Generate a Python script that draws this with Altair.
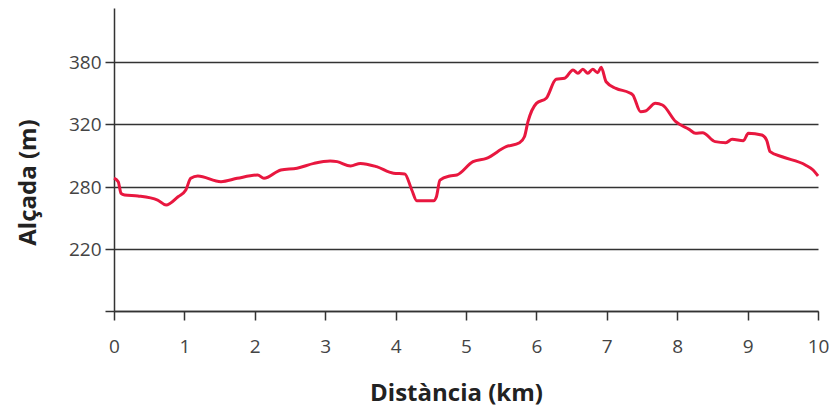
import altair as alt
import pandas as pd

km = [0.00, 0.06, 0.10, 0.15, 0.34, 0.62, 0.74, 0.91, 1.02, 1.09, 1.19, 1.52, 1.75, 2.04, 2.13,
      2.37, 2.60, 2.84, 3.07, 3.17, 3.36, 3.50, 3.73, 3.97, 4.13, 4.23, 4.30, 4.54, 4.58, 4.63,
      4.77, 4.87, 5.10, 5.29, 5.57, 5.76, 5.83, 5.88, 6.00, 6.14, 6.28, 6.40, 6.52, 6.59, 6.66,
      6.73, 6.80, 6.87, 6.92, 6.99, 7.13, 7.32, 7.37, 7.48, 7.55, 7.69, 7.79, 7.98, 8.17, 8.26,
      8.36, 8.54, 8.69, 8.78, 8.94, 9.01, 9.20, 9.27, 9.32, 9.49, 9.82, 9.93, 10.00]
alt_m = [285.7, 283.4, 273.9, 272.3, 271.3, 267.4, 262.6, 270.6, 277.1, 285.5, 287.0, 283.4, 285.5,
         287.6, 285.5, 290.8, 291.9, 295.0, 296.5, 296.1, 293.3, 295.0, 292.9, 288.7, 288.3, 277.1,
         266.7, 266.7, 270.6, 284.4, 287.0, 287.6, 296.1, 298.2, 305.6, 308.1, 311.9, 322.2, 340.0,
         344.9, 363.3, 364.2, 372.3, 369.1, 372.9, 369.1, 372.9, 369.6, 374.9, 360.9, 354.5, 350.3,
         348.1, 331.9, 332.6, 340.0, 338.4, 322.2, 316.6, 314.1, 314.5, 308.8, 308.1, 310.3, 309.4,
         314.1, 313.0, 309.8, 302.4, 299.2, 294.0, 290.8, 287.0]

x_ticks = [0, 1, 2, 3, 4, 5, 6, 7, 8, 9, 10]
y_ticks = [160, 220, 280, 320, 380]
y_domain = [160, 220, 280, 320, 380, 432]
y_range = [303, 241, 179, 116, 54, 0]

df = pd.DataFrame({"km": km, "alt": alt_m})

FONT = "Open Sans"

chart = alt.Chart(df).mark_line(color="#e8173f", strokeWidth=3, interpolate="monotone").encode(
    x=alt.X("km:Q",
            scale=alt.Scale(domain=[0, 10], nice=False, zero=False),
            axis=alt.Axis(values=x_ticks, title="Distància (km)", grid=False,
                          domainColor="#333", domainWidth=1.5, tickColor="#333", tickWidth=1.5,
                          tickSize=9, labelPadding=17, labelFontSize=19, labelColor="#444",
                          labelFont=FONT, titleFont=FONT, titleFontSize=24, titleFontWeight="bold",
                          titleColor="#222", titleX=342, titleY=89, titleBaseline="alphabetic",
                          titleAnchor="start", titleAlign="center", labelFlush=False)),
    y=alt.Y("alt:Q",
            scale=alt.Scale(domain=y_domain, range=y_range, nice=False, zero=False),
            axis=alt.Axis(values=y_ticks, title="Alçada (m)", grid=True,
                          gridColor="#333", gridWidth=1.5, gridOpacity=1,
                          domainColor="#333", domainWidth=1.5, tickColor="#333", tickWidth=1.5,
                          tickSize=9, labelPadding=4, labelFontSize=19, labelColor="#444",
                          labelFont=FONT, titleFont=FONT, titleFontSize=24, titleFontWeight="bold",
                          titleColor="#222", titleX=-86, titleY=174, titleBaseline="middle",
                          titleAngle=270, titleAlign="center",
                          labelExpr="datum.value == 160 ? '' : datum.label")),
).properties(
    width=704, height=303,
    background="white",
    autosize=alt.AutoSizeParams(type="none"),
    padding={"left": 106, "top": 0, "right": 11, "bottom": 95},
).configure_view(stroke=None)

chart.save("out.html", embed_options={"renderer": "svg", "actions": False})
